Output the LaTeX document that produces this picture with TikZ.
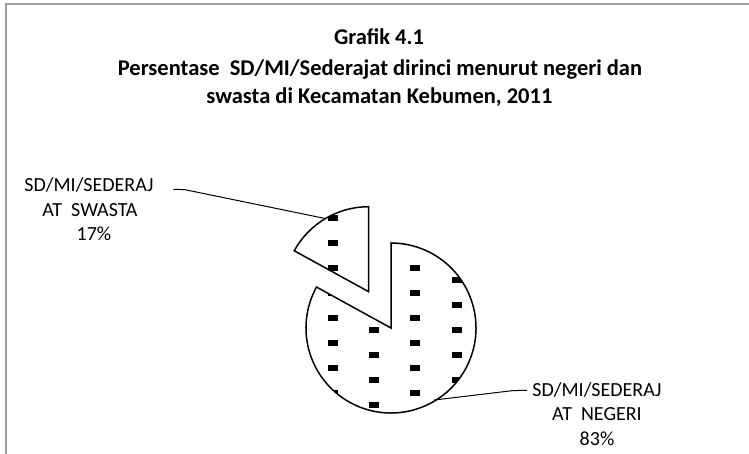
\documentclass[tikz,border=0pt]{standalone}
\usepackage{fontspec}
\setmainfont{Carlito}
\begin{document}
\begin{tikzpicture}[x=1pt,y=1pt,
  titletext/.style={font=\fontsize{22.5}{27}\selectfont\bfseries, anchor=base, inner sep=0pt},
  labeltext/.style={font=\fontsize{20}{24}\selectfont, anchor=base, inner sep=0pt},
  slice/.style={draw=black, line width=1.5pt, line join=miter},
  leader/.style={draw=black, line width=1pt},
  frameline/.style={draw=black!38, line width=2pt},
  dashmark/.style={fill=black}]
\useasboundingbox (0,0) rectangle (749,-454);
\clip (0,0) rectangle (749,-454);
\draw[frameline] (5.5,-470) -- (5.5,-4.5) -- (760,-4.5);
% titles
\node[titletext] (t1) at (379,-45) {Grafik 4.1};
\node[titletext] (t2) at (380,-76) {Persentase\ \ SD/MI/Sederajat dirinci menurut negeri dan};
\node[titletext] (t3) at (379.4,-104) {swasta di Kecamatan Kebumen, 2011};
% centres
\coordinate (M) at (391,-328);
\coordinate (S) at (368.7,-291.7);
% main slice (83%)
\begin{scope}
\clip (M) -- ++(151.2:85) arc[start angle=151.2,end angle=450,radius=85] -- cycle;
\foreach \k in {-1,...,3}{
  \foreach \j in {-6,...,4}{
    \pgfmathsetmacro\xx{332.5+41.4*\k}
    \pgfmathsetmacro\yy{317.7+25*\j+12.3*mod(abs(\k),2)}
    \fill[dashmark] ({\xx-5},{-\yy-3}) rectangle ++(10,6);
  }
}
\end{scope}
\draw[slice] (M) -- ++(151.2:85) arc[start angle=151.2,end angle=450,radius=85] -- cycle;
% small slice (17%)
\begin{scope}
\clip (S) -- ++(90:85) arc[start angle=90,end angle=151.2,radius=85] -- cycle;
\foreach \k in {-1,...,3}{
  \foreach \j in {-6,...,4}{
    \pgfmathsetmacro\xx{332.5+41.4*\k}
    \pgfmathsetmacro\yy{317.7+25*\j+12.3*mod(abs(\k),2)}
    \fill[dashmark] ({\xx-5},{-\yy-3}) rectangle ++(10,6);
  }
}
\end{scope}
\draw[slice] (S) -- ++(90:85) arc[start angle=90,end angle=151.2,radius=85] -- cycle;
% labels
\node[labeltext] (sw1) at (89,-191.7) {SD/MI/SEDERAJ};
\node[labeltext] (sw2) at (90,-216.7) {AT\ \ SWASTA};
\node[labeltext] (sw3) at (94,-241) {17\%};
\node[labeltext] (ng1) at (597,-396.7) {SD/MI/SEDERAJ};
\node[labeltext] (ng2) at (597,-420.7) {AT\ \ NEGERI};
\node[labeltext] (ng3) at (597,-445) {83\%};
% leaders
\path (S) ++(120.6:85) coordinate (swpt);
\coordinate (swknee) at (185,-189.7);
\coordinate (swend) at (173.3,-189.3);
\draw[leader] (swpt) -- (swknee) -- (swend);
\path (M) ++(-59:84) coordinate (ngpt);
\coordinate (ngknee) at (513,-390.6);
\coordinate (ngend) at (527,-390.3);
\draw[leader] (ngpt) -- (ngknee) -- (ngend);
\end{tikzpicture}
\end{document}
